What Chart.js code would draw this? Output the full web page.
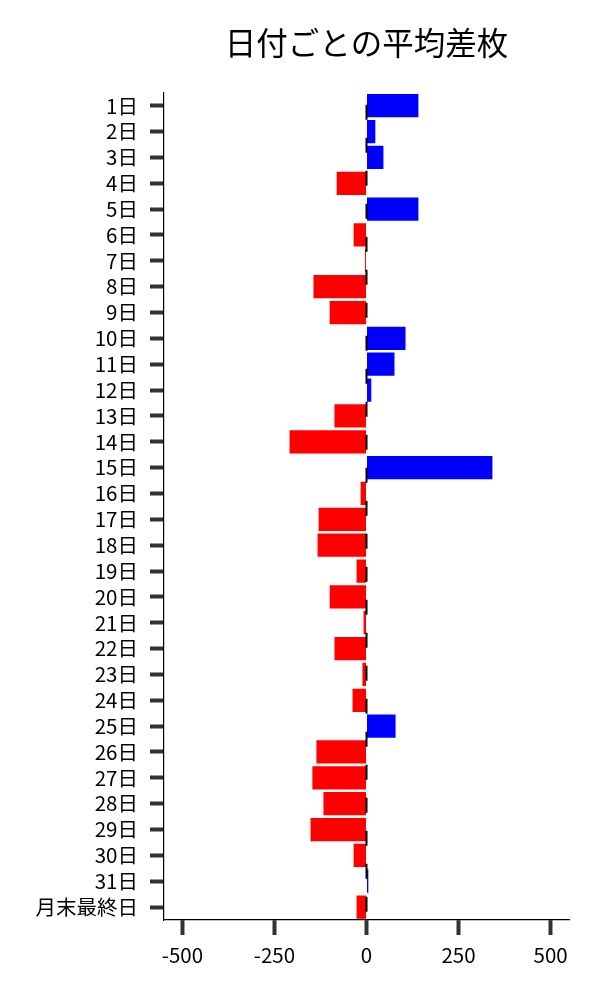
<!DOCTYPE html>
<html lang="ja">
<head>
<meta charset="utf-8">
<script src="https://cdn.jsdelivr.net/npm/chart.js@4.4.1/dist/chart.umd.min.js"></script>
<style>
  html, body { margin: 0; padding: 0; background: #fff; }
  #wrap { width: 600px; height: 1000px; }
</style>
</head>
<body>
<div id="wrap"><canvas id="chart"></canvas></div>
<script>
// 日付ごとのラベルと平均差枚
const DAYS = [
  "1日", "2日", "3日", "4日", "5日", "6日", "7日", "8日", "9日", "10日",
  "11日", "12日", "13日", "14日", "15日", "16日", "17日", "18日", "19日", "20日",
  "21日", "22日", "23日", "24日", "25日", "26日", "27日", "28日", "29日", "30日",
  "31日", "月末最終日",
];
const AVG_DIFF = [
  141, 24, 46, -81, 141, -35, -4, -144, -100, 106,
  76, 13, -87, -209, 342, -16, -130, -133, -27, -100,
  -8, -87, -11, -38, 79, -136, -147, -117, -152, -35,
  5, -27,
];
const X_TICKS = [-500, -250, 0, 250, 500];
const X_MIN = -550;
const X_MAX = 550;

const FONT = '"Noto Sans CJK JP", "Noto Sans", sans-serif';

// x=0 の破線
const zeroLine = {
  id: "zeroLine",
  afterDatasetsDraw(chart) {
    const { ctx, chartArea } = chart;
    const x = chart.scales.x.getPixelForValue(0);
    ctx.save();
    ctx.strokeStyle = "#000";
    ctx.lineWidth = 2;
    ctx.setLineDash([15, 18]);
    ctx.lineDashOffset = 21;
    ctx.beginPath();
    ctx.moveTo(x, chartArea.top);
    ctx.lineTo(x, chartArea.bottom);
    ctx.stroke();
    ctx.restore();
  },
};

new Chart(document.getElementById("chart"), {
  type: "bar",
  data: {
    labels: DAYS,
    datasets: [
      {
        label: "平均差枚",
        data: AVG_DIFF,
        backgroundColor: AVG_DIFF.map((v) => (v >= 0 ? "#0000ff" : "#ff0000")),
        barPercentage: 0.9,
        categoryPercentage: 1.0,
      },
    ],
  },
  options: {
    indexAxis: "y",
    responsive: true,
    maintainAspectRatio: false,
    animation: false,
    layout: { padding: { left: 0, right: 31, top: 0, bottom: 0 } },
    plugins: {
      legend: { display: false },
      tooltip: { enabled: false },
      title: {
        display: true,
        text: "日付ごとの平均差枚",
        fullSize: false,
        color: "#000",
        font: { family: FONT, size: 31.5, weight: "normal" },
        padding: { top: 24, bottom: 31 },
      },
    },
    scales: {
      x: {
        min: X_MIN,
        max: X_MAX,
        afterBuildTicks: (scale) => {
          scale.ticks = X_TICKS.map((v) => ({ value: v }));
        },
        afterFit: (scale) => {
          scale.height = 80;
        },
        grid: {
          drawOnChartArea: false,
          tickLength: 15,
          tickWidth: 4,
          tickColor: "#333",
        },
        border: { color: "#000", width: 1.2 },
        ticks: {
          color: "#000",
          padding: 8,
          maxRotation: 0,
          font: { family: FONT, size: 20.5 },
        },
      },
      y: {
        afterFit: (scale) => {
          scale.width = 164;
        },
        grid: {
          offset: false,
          drawOnChartArea: false,
          tickLength: 14,
          tickWidth: 4,
          tickColor: "#333",
        },
        border: { color: "#000", width: 1.2 },
        ticks: {
          color: "#000",
          padding: 12,
          autoSkip: false,
          font: { family: FONT, size: 20.5 },
        },
      },
    },
  },
  plugins: [zeroLine],
});
</script>
</body>
</html>
